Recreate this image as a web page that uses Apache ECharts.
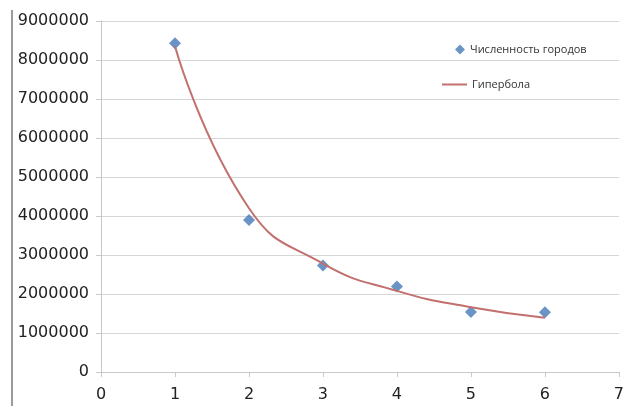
<!DOCTYPE html>
<html>
<head>
<meta charset="utf-8">
<script src="https://cdn.jsdelivr.net/npm/echarts@6/dist/echarts.min.js"></script>
<style>
  html, body { margin: 0; padding: 0; background: #ffffff; }
  #chart { width: 627px; height: 406px; }
</style>
</head>
<body>
<div id="chart"></div>
<script>
// Number of the city (rank) and its population
const cityRank = [1, 2, 3, 4, 5, 6];
const cityPopulation = [8430000, 3900000, 2730000, 2190000, 1540000, 1530000];
// Hyperbolic fit evaluated at the same ranks
const hyperbolaValues = [8350000, 4200000, 2780000, 2080000, 1660000, 1390000];

const seriesNames = ['Численность городов', 'Гипербола'];

const axisFont = 'DejaVu Sans';
const legendFont = 'Open Sans';

const pointsData = cityRank.map((x, i) => [x, cityPopulation[i]]);
const curveData = cityRank.map((x, i) => [x, hyperbolaValues[i]]);

const chart = echarts.init(document.getElementById('chart'), null, { renderer: 'canvas' });

chart.setOption({
  animation: false,
  backgroundColor: '#ffffff',
  grid: { left: 101, right: 3, top: 21, bottom: 34, containLabel: false },
  legend: [
    {
      data: [{ name: seriesNames[0], icon: 'diamond' }],
      left: 450, top: 39,
      itemWidth: 10, itemHeight: 10, itemGap: 5,
      textStyle: { fontFamily: legendFont, fontSize: 11, color: '#333333' }
    },
    {
      data: [{ name: seriesNames[1], icon: 'rect' }],
      left: 437, top: 74,
      itemWidth: 25, itemHeight: 2, itemGap: 5,
      textStyle: { fontFamily: legendFont, fontSize: 11, color: '#333333' }
    }
  ],
  xAxis: {
    type: 'value',
    min: 0, max: 7, interval: 1,
    axisLine: { show: true, lineStyle: { color: '#c8c8c8', width: 1 } },
    axisTick: { show: true, length: 5, lineStyle: { color: '#c8c8c8' } },
    axisLabel: { margin: 15, fontFamily: axisFont, fontSize: 16, color: '#222222' },
    splitLine: { show: false }
  },
  yAxis: {
    type: 'value',
    min: 0, max: 9000000, interval: 1000000,
    axisLine: { show: true, lineStyle: { color: '#c8c8c8', width: 1 } },
    axisTick: { show: true, length: 5, lineStyle: { color: '#c8c8c8' } },
    axisLabel: {
      margin: 12, fontFamily: axisFont, fontSize: 16, color: '#222222',
      formatter: (v) => String(v)
    },
    splitLine: { show: true, lineStyle: { color: '#d6d6d6', width: 1 } }
  },
  series: [
    {
      name: seriesNames[0],
      type: 'scatter',
      data: pointsData,
      symbol: 'diamond',
      symbolSize: 12,
      itemStyle: { color: '#4579b8' },
      z: 2
    },
    {
      name: seriesNames[1],
      type: 'line',
      data: curveData,
      smooth: 0.5,
      showSymbol: false,
      symbol: 'none',
      lineStyle: { color: '#c2706d', width: 2 },
      itemStyle: { color: '#c2706d' },
      z: 3
    }
  ],
  graphic: [
    {
      type: 'line',
      shape: { x1: 12, y1: 10, x2: 12, y2: 406 },
      style: { stroke: '#7a7a7a', lineWidth: 1.5 }
    }
  ]
});
</script>
</body>
</html>
